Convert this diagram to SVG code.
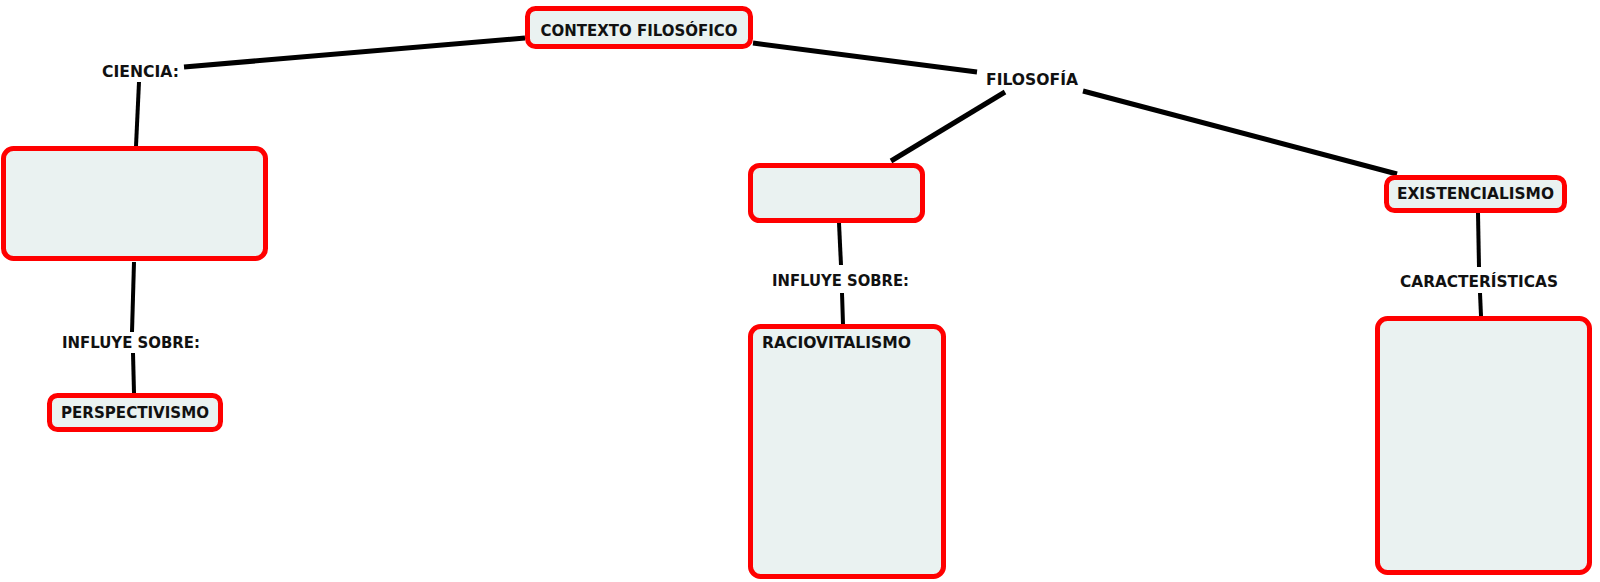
<svg xmlns="http://www.w3.org/2000/svg" width="1600" height="582" viewBox="0 0 1600 582">
<style>
.box{fill:#EAF2F1;stroke:#FF0000;stroke-width:5}
.t{font-family:"DejaVu Sans","Liberation Sans",sans-serif;font-weight:bold;font-size:15px;fill:#111}
.c{stroke:#000;stroke-linecap:butt;fill:none}
.thick{stroke-width:5}
.thin{stroke-width:4}
</style>
<rect width="1600" height="582" fill="#fff"/>
<g id="connectors">
<line class="c thick" x1="525" y1="38" x2="184" y2="67"/>
<line class="c thick" x1="753" y1="43" x2="977" y2="72"/>
<line class="c thin" x1="139" y1="82" x2="136" y2="146"/>
<line class="c thin" x1="134" y1="262" x2="132" y2="332"/>
<line class="c thin" x1="133" y1="353" x2="134" y2="393"/>
<line class="c thick" x1="1005" y1="92" x2="891" y2="161"/>
<line class="c thick" x1="1083" y1="91" x2="1397" y2="174"/>
<line class="c thin" x1="839" y1="223" x2="841" y2="265"/>
<line class="c thin" x1="842" y1="293" x2="843" y2="324"/>
<line class="c thin" x1="1478" y1="213" x2="1479" y2="267"/>
<line class="c thin" x1="1480" y1="293" x2="1481" y2="316"/>
</g>
<g id="contexto">
<rect class="box" x="527.5" y="8.5" width="223" height="38" rx="8"/>
<text class="t" x="639" y="36" text-anchor="middle" textLength="197" lengthAdjust="spacingAndGlyphs">CONTEXTO FILOSÓFICO</text>
</g>
<g id="ciencia">
<text class="t" x="102" y="77" textLength="77" lengthAdjust="spacingAndGlyphs">CIENCIA:</text>
</g>
<g id="filosofia">
<text class="t" x="986" y="85" textLength="92" lengthAdjust="spacingAndGlyphs">FILOSOFÍA</text>
</g>
<g id="ciencia-box">
<rect class="box" x="3.5" y="148.5" width="262" height="110" rx="10"/>
</g>
<g id="influye-left">
<text class="t" x="62" y="348" textLength="138" lengthAdjust="spacingAndGlyphs">INFLUYE SOBRE:</text>
</g>
<g id="perspectivismo">
<rect class="box" x="49.5" y="395.5" width="171" height="34" rx="8"/>
<text class="t" x="61" y="418" textLength="148" lengthAdjust="spacingAndGlyphs">PERSPECTIVISMO</text>
</g>
<g id="filosofia-box">
<rect class="box" x="750.5" y="165.5" width="172" height="55" rx="9"/>
</g>
<g id="influye-mid">
<text class="t" x="772" y="286" textLength="137" lengthAdjust="spacingAndGlyphs">INFLUYE SOBRE:</text>
</g>
<g id="raciovitalismo">
<rect class="box" x="750.5" y="326.5" width="193" height="250" rx="10"/>
<text class="t" x="762" y="348" textLength="149" lengthAdjust="spacingAndGlyphs">RACIOVITALISMO</text>
</g>
<g id="existencialismo">
<rect class="box" x="1386.5" y="177.5" width="178" height="33" rx="8"/>
<text class="t" x="1397" y="199" textLength="157" lengthAdjust="spacingAndGlyphs">EXISTENCIALISMO</text>
</g>
<g id="caracteristicas">
<text class="t" x="1400" y="287" textLength="158" lengthAdjust="spacingAndGlyphs">CARACTERÍSTICAS</text>
</g>
<g id="caracteristicas-box">
<rect class="box" x="1377.5" y="318.5" width="212" height="254" rx="10"/>
</g>
</svg>
